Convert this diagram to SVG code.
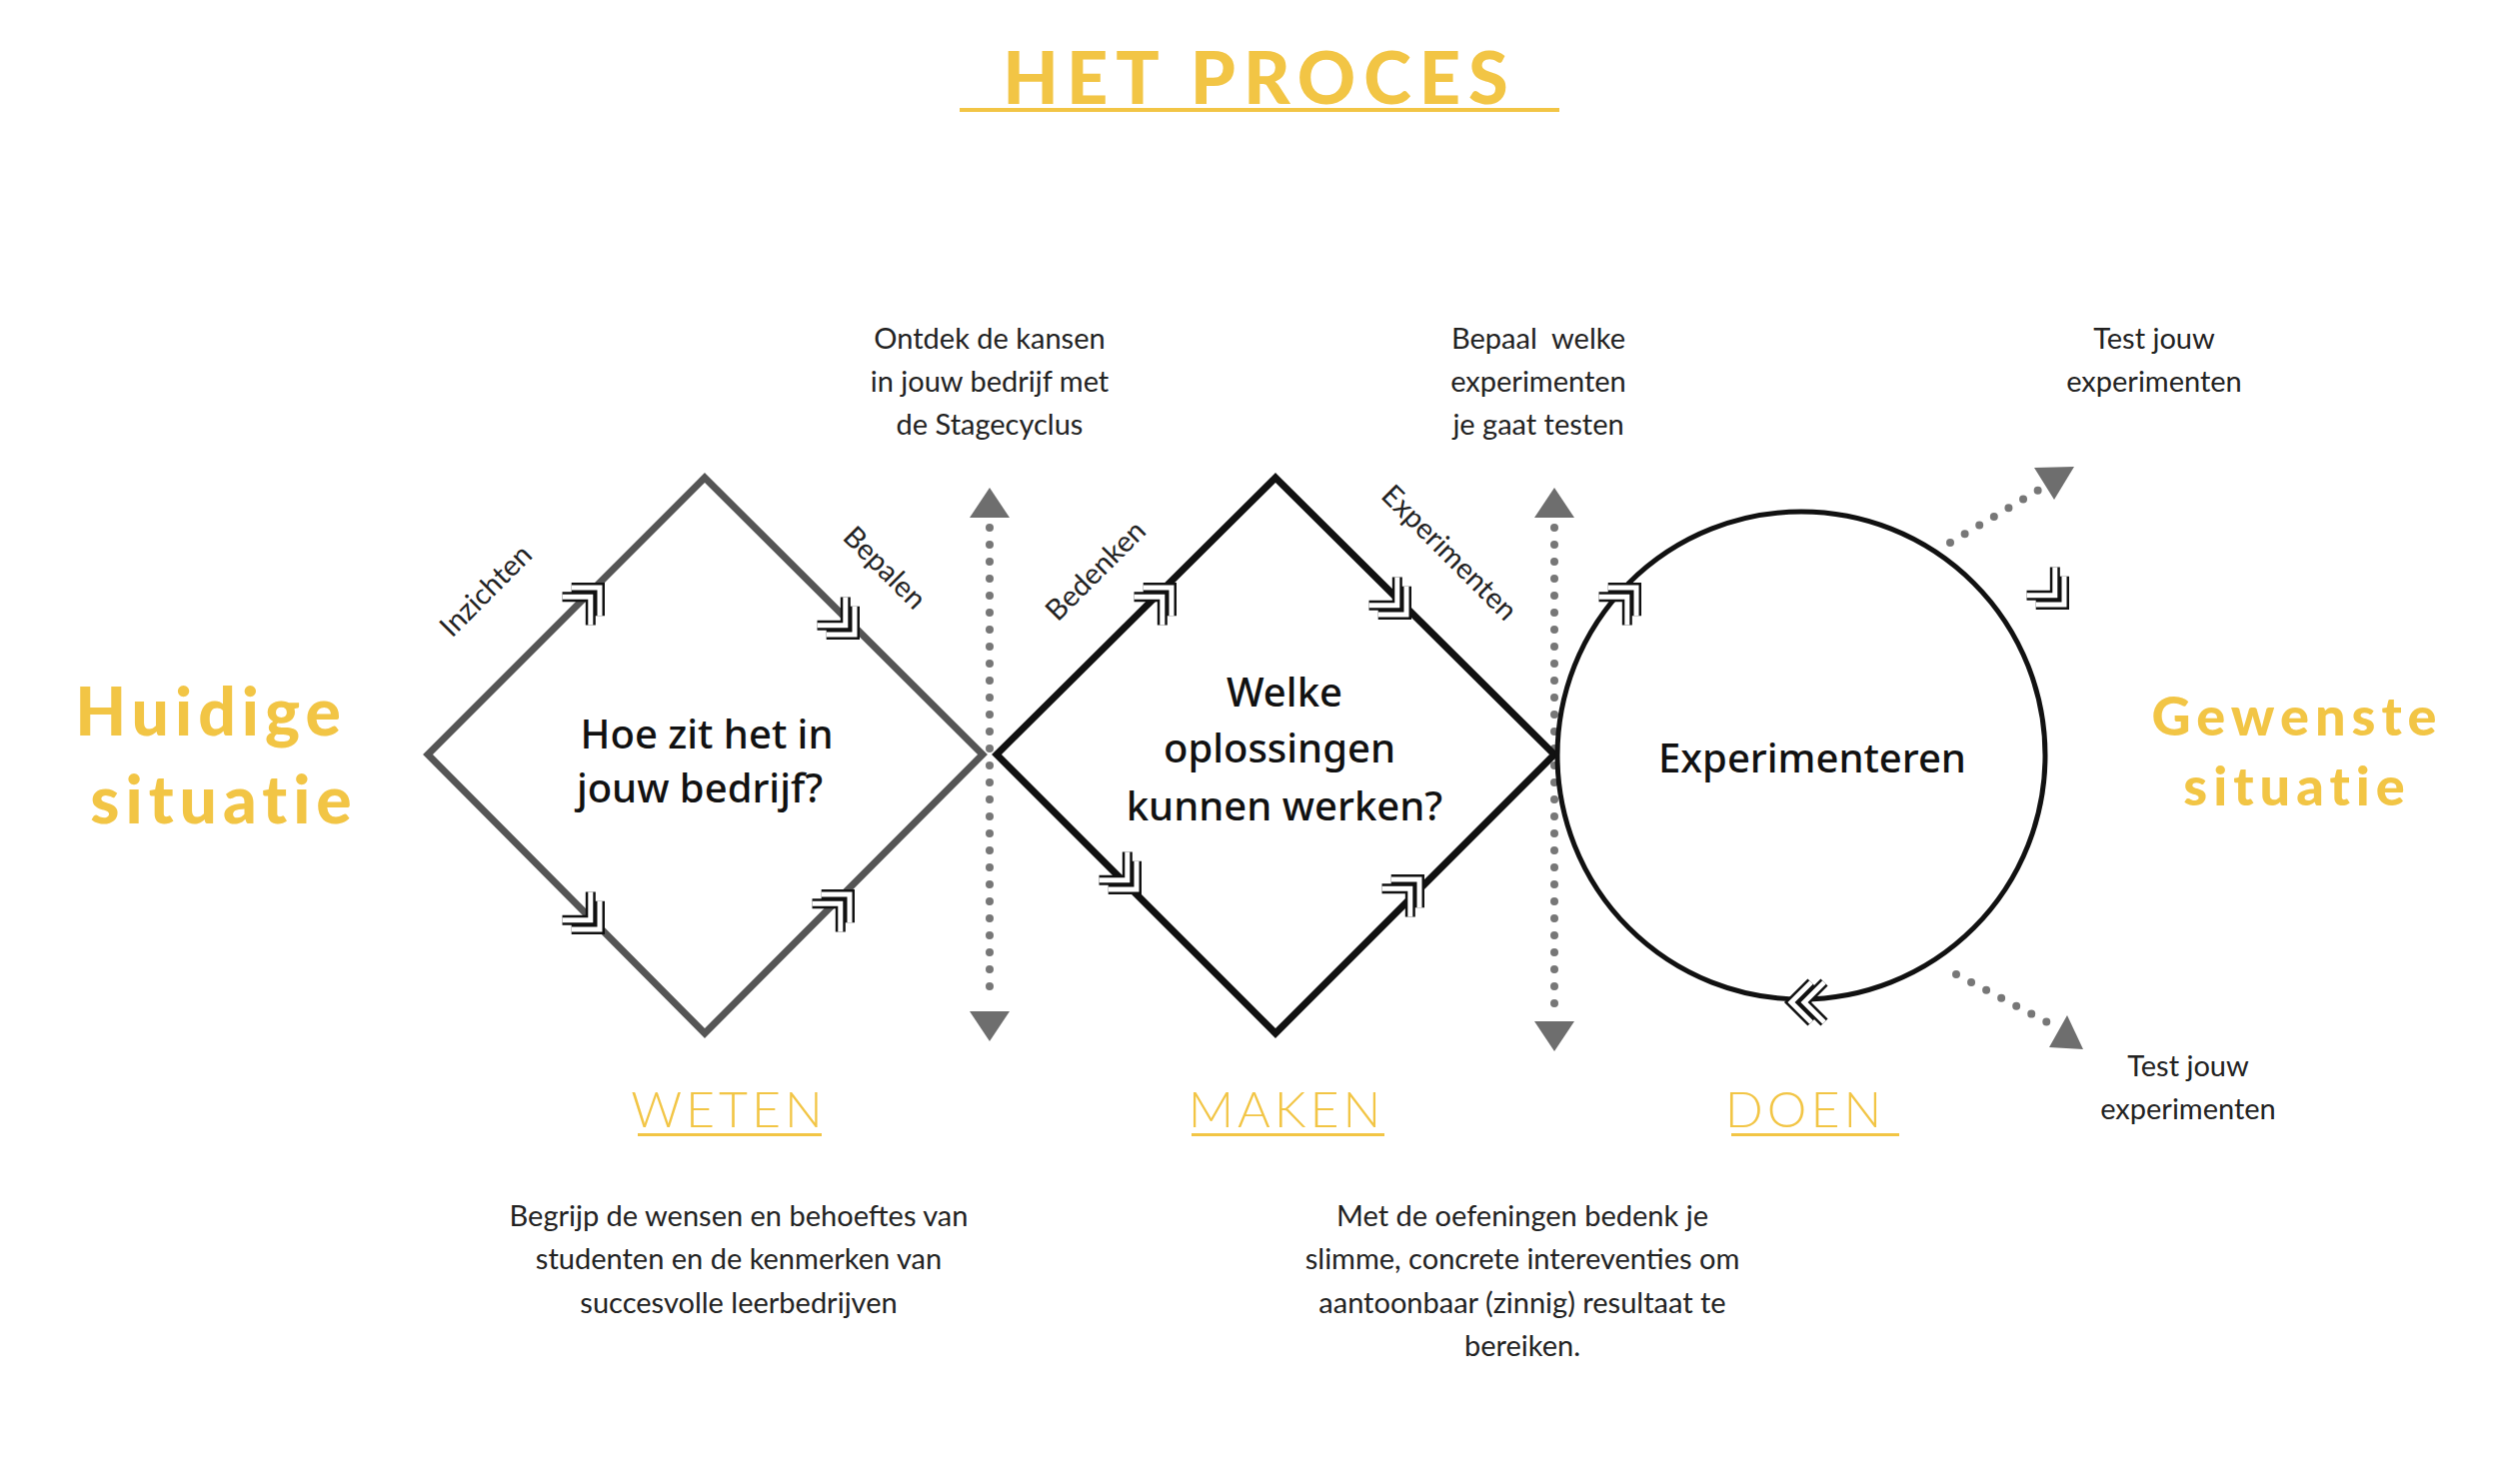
<svg xmlns="http://www.w3.org/2000/svg" width="2500" height="1485" viewBox="0 0 2500 1485">
<style>
.y{fill:#F2C545;font-family:"Lato","Open Sans",sans-serif;font-weight:900}
.n{font-family:"Noto Sans","Open Sans",sans-serif;font-weight:500;fill:#111;font-size:40px;text-anchor:middle}
.s{font-family:"Lato","Open Sans",sans-serif;fill:#222;font-size:29px;text-anchor:middle}
.ph{font-family:"Lato","Open Sans",sans-serif;fill:#F2C545;font-size:50px;letter-spacing:4px;text-anchor:middle;font-weight:300}
.dot{stroke:#777;stroke-width:8;stroke-linecap:round;stroke-dasharray:0 17;fill:none}
.tri{fill:#6e6e6e}
</style>
<defs>
<g id="chev">
<path d="M-20,-20 L0,0 L-20,20 M-33,-20 L-13,0 L-33,20" fill="none" stroke="#111" stroke-width="10" stroke-linejoin="miter"/>
<path d="M-20,-20 L0,0 L-20,20 M-33,-20 L-13,0 L-33,20" fill="none" stroke="#fff" stroke-width="5" stroke-linejoin="miter"/>
</g>
</defs>
<rect width="2500" height="1485" fill="#fff"/>
<g id="title">
<text x="1260" y="104" class="y" font-size="72" text-anchor="middle" letter-spacing="8">HET PROCES</text>
<rect x="960" y="108" width="600" height="4" fill="#F2C545"/>
</g>
<g id="huidige">
<text x="211" y="736" class="y" font-size="66" text-anchor="middle" letter-spacing="6">Huidige</text>
<text x="224" y="824" class="y" font-size="66" text-anchor="middle" letter-spacing="6">situatie</text>
</g>
<g id="gewenste">
<text x="2298" y="736" class="y" font-size="54" text-anchor="middle" letter-spacing="6">Gewenste</text>
<text x="2298" y="806" class="y" font-size="54" text-anchor="middle" letter-spacing="6">situatie</text>
</g>
<g id="connectors">
<line x1="990" y1="528" x2="990" y2="1000" class="dot"/>
<polygon class="tri" points="990,488 1010,518 970,518"/>
<polygon class="tri" points="990,1042 1010,1012 970,1012"/>
<line x1="1555" y1="528" x2="1555" y2="1010" class="dot"/>
<polygon class="tri" points="1555,488 1575,518 1535,518"/>
<polygon class="tri" points="1555,1052 1575,1022 1535,1022"/>
<line x1="1951" y1="543" x2="2040" y2="490" class="dot"/>
<polygon class="tri" points="2075,467 2055,500 2035,468"/>
<line x1="1957" y1="975" x2="2052" y2="1025" class="dot"/>
<polygon class="tri" points="2084,1050 2050,1048 2068,1016"/>
</g>
<g id="weten">
<polygon points="705,478 983,755 705,1034 428,755" fill="#fff" stroke="#555" stroke-width="7" stroke-linejoin="miter"/>
<text x="707" y="749" class="n">Hoe zit het in</text>
<text x="700" y="803" class="n">jouw bedrijf?</text>
</g>
<g id="maken">
<polygon points="1276,478 1555,755 1276,1034 997,755" fill="#fff" stroke="#111" stroke-width="7" stroke-linejoin="miter"/>
<text x="1285" y="707" class="n">Welke</text>
<text x="1280" y="763" class="n" font-weight="700">oplossingen</text>
<text x="1285" y="821" class="n">kunnen werken?</text>
</g>
<g id="doen">
<circle cx="1802" cy="756" r="244" fill="none" stroke="#111" stroke-width="5"/>
<text x="1813" y="773" class="n">Experimenteren</text>
</g>
<g id="chevrons">
<use href="#chev" transform="translate(600,588) rotate(-45)"/>
<use href="#chev" transform="translate(855,635) rotate(45)"/>
<use href="#chev" transform="translate(600,930) rotate(45)"/>
<use href="#chev" transform="translate(850,895) rotate(-45)"/>
<use href="#chev" transform="translate(1172,588) rotate(-45)"/>
<use href="#chev" transform="translate(1407,615) rotate(45)"/>
<use href="#chev" transform="translate(1137,890) rotate(45)"/>
<use href="#chev" transform="translate(1420,880) rotate(-45)"/>
<use href="#chev" transform="translate(1637,588) rotate(-45)"/>
<use href="#chev" transform="translate(2065,605) rotate(45)"/>
<use href="#chev" transform="translate(1792,1003) rotate(180)"/>
</g>
<g id="edge-labels" font-family="Lato, 'Open Sans', sans-serif" font-size="29" fill="#222" text-anchor="middle">
<text transform="translate(493,598) rotate(-45)">Inzichten</text>
<text transform="translate(878,575) rotate(45)">Bepalen</text>
<text transform="translate(1103,578) rotate(-45)">Bedenken</text>
<text transform="translate(1443,560) rotate(45)">Experimenten</text>
</g>
<g id="notes">
<text class="s" x="990" y="349">Ontdek de kansen</text>
<text class="s" x="990" y="392">in jouw bedrijf met</text>
<text class="s" x="990" y="435">de Stagecyclus</text>
<text class="s" x="1539" y="349" xml:space="preserve">Bepaal  welke</text>
<text class="s" x="1539" y="392">experimenten</text>
<text class="s" x="1539" y="435">je gaat testen</text>
<text class="s" x="2155" y="349">Test jouw</text>
<text class="s" x="2155" y="392">experimenten</text>
<text class="s" x="2189" y="1077">Test jouw</text>
<text class="s" x="2189" y="1120">experimenten</text>
<text class="s" x="739" y="1227">Begrijp de wensen en behoeftes van</text>
<text class="s" x="739" y="1270">studenten en de kenmerken van</text>
<text class="s" x="739" y="1314">succesvolle leerbedrijven</text>
<text class="s" x="1523" y="1227">Met de oefeningen bedenk je</text>
<text class="s" x="1523" y="1270">slimme, concrete intereventies om</text>
<text class="s" x="1523" y="1314">aantoonbaar (zinnig) resultaat te</text>
<text class="s" x="1523" y="1357">bereiken.</text>
</g>
<g id="phases">
<text class="ph" x="729" y="1128">WETEN</text>
<rect x="638" y="1134" width="184" height="3" fill="#F2C545"/>
<text class="ph" x="1287" y="1128">MAKEN</text>
<rect x="1192" y="1134" width="193" height="3" fill="#F2C545"/>
<text class="ph" x="1806" y="1128">DOEN</text>
<rect x="1732" y="1134" width="168" height="3" fill="#F2C545"/>
</g>
</svg>
